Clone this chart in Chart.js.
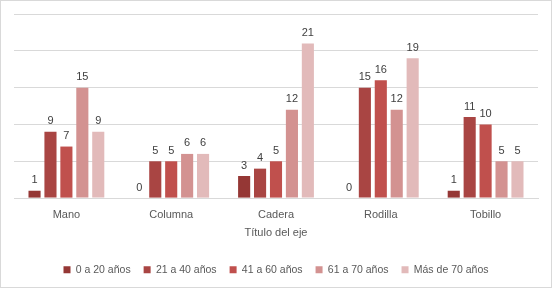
<!DOCTYPE html>
<html lang="es">
  <head>
    <meta charset="UTF-8" />
    <title>Lesiones por edad</title>
    <script src="https://cdn.jsdelivr.net/npm/chart.js"></script>
    <style>
      html, body { margin: 0; padding: 0; background: #fff; }
      #wrap {
        width: 550px;
        height: 286px;
        border: 1px solid #d9d9d9;
      }
    </style>
  </head>
  <body>
    <div id="wrap"><canvas id="chart" width="550" height="286"></canvas></div>

    <script>
      const categories = ["Mano", "Columna", "Cadera", "Rodilla", "Tobillo"];
      const seriesNames = ["0 a 20 años", "21 a 40 años", "41 a 60 años", "61 a 70 años", "Más de 70 años"];
      const age0to20 = [1, 0, 3, 0, 1];
      const age21to40 = [9, 5, 4, 15, 11];
      const age41to60 = [7, 5, 5, 16, 10];
      const age61to70 = [15, 6, 12, 12, 5];
      const ageOver70 = [9, 6, 21, 19, 5];
      const yTicks = [0, 5, 10, 15, 20, 25];

      const colors = ["#953735", "#a94543", "#c0504d", "#d39291", "#e2baba"];
      const values = [age0to20, age21to40, age41to60, age61to70, ageOver70];
      const font = "'Liberation Sans', Arial, sans-serif";

      // draws the value above each bar
      const barLabels = {
        id: "barLabels",
        afterDatasetsDraw(chart) {
          const ctx = chart.ctx;
          ctx.save();
          ctx.font = "11px " + font;
          ctx.fillStyle = "#404040";
          ctx.textAlign = "center";
          ctx.textBaseline = "bottom";
          chart.data.datasets.forEach((ds, i) => {
            chart.getDatasetMeta(i).data.forEach((bar, j) => {
              ctx.fillText(ds.data[j], bar.x, bar.y - 5);
            });
          });
          ctx.restore();
        },
      };

      new Chart(document.getElementById("chart"), {
        type: "bar",
        data: {
          labels: categories,
          datasets: seriesNames.map((name, i) => ({
            label: name,
            data: values[i],
            backgroundColor: colors[i],
            barPercentage: 0.76,
            categoryPercentage: 0.76,
          })),
        },
        options: {
          responsive: false,
          animation: false,
          layout: { padding: { left: 13, right: 13, top: 13, bottom: 2 } },
          plugins: {
            tooltip: { enabled: false },
            legend: {
              position: "bottom",
              labels: {
                boxWidth: 7,
                boxHeight: 7,
                padding: 13,
                color: "#595959",
                font: { family: font, size: 10.5 },
              },
            },
          },
          scales: {
            x: {
              grid: { display: false },
              border: { color: "#d9d9d9" },
              ticks: {
                color: "#595959",
                padding: 2,
                font: { family: font, size: 11 },
              },
              title: {
                display: true,
                text: "Título del eje",
                color: "#595959",
                padding: { top: 3, bottom: 12 },
                font: { family: font, size: 11 },
              },
            },
            y: {
              min: yTicks[0],
              max: yTicks[yTicks.length - 1],
              ticks: { display: false, stepSize: yTicks[1] - yTicks[0] },
              grid: { color: "#d9d9d9", drawTicks: false },
              border: { display: false },
            },
          },
        },
        plugins: [barLabels],
      });
    </script>
  </body>
</html>
